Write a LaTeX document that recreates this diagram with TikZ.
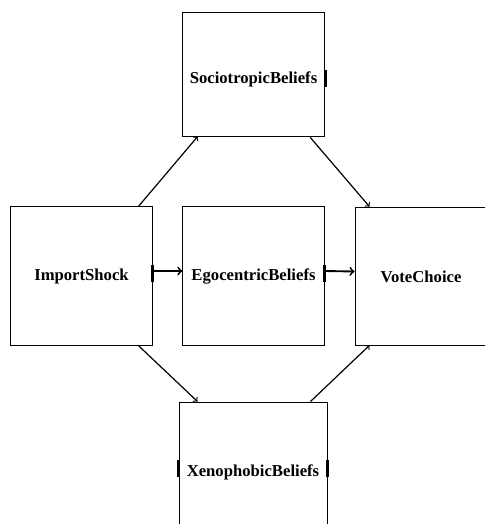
\documentclass[tikz,border=0pt]{standalone}
\usepackage{fontspec}
\setmainfont{Liberation Serif}
\usetikzlibrary{calc}
\begin{document}
\begin{tikzpicture}[x=0.75pt, y=-0.75pt,
    every node/.style={font=\bfseries\fontsize{12.5}{14}\selectfont},
    varbox/.style={draw, line width=0.75pt, inner sep=0pt},
    edgemark/.style={line width=2.2pt},
    link/.style={->, line width=0.9pt}]
  \useasboundingbox (0,0) rectangle (485,524);
  \clip (0,0) rectangle (485,524);

  \node[varbox, minimum width=107pt, minimum height=93pt, text height=16pt, text depth=3pt] (socio) at (253.5,75) {SociotropicBeliefs};
  \node[varbox, minimum width=106pt, minimum height=104pt] (import) at (81.5,276) {ImportShock};
  \node[varbox, minimum width=106pt, minimum height=104pt] (ego) at (253.5,276) {EgocentricBeliefs};
  \node[varbox, minimum width=99pt, minimum height=104pt] (vote) at (421,276.5) {VoteChoice};
  \node[varbox, minimum width=111pt, minimum height=105pt] (xeno) at (253,472) {XenophobicBeliefs};

  % marks on the box edges
  \draw[edgemark] ($(socio.east)+(0,-5)$) -- ($(socio.east)+(0,12)$);
  \draw[edgemark] ($(import.east)+(0,-11)$) -- ($(import.east)+(0,6)$);
  \draw[edgemark] ($(ego.east)+(0,-11)$) -- ($(ego.east)+(0,6)$);
  \draw[edgemark] ($(xeno.west)+(0,-12)$) -- ($(xeno.west)+(0,5)$);
  \draw[edgemark] ($(xeno.east)+(0,-12)$) -- ($(xeno.east)+(0,5)$);

  \draw[link, line width=1.4pt] ($(import.east)+(0,-5)$) -- ($(ego.west)+(0,-5)$);
  \draw[link, line width=1.4pt] ($(ego.east)+(0,-5)$) -- ($(vote.west)+(0,-5)$);

  \draw[link] ($(import.north east)+(-14,0)$) -- ($(socio.south west)+(16,-1)$);
  \draw[link] ($(socio.south east)+(-15,0)$) -- ($(vote.north west)+(15,0)$);
  \draw[link] ($(import.south east)+(-14,0)$) -- ($(xeno.north west)+(19,0)$);
  \draw[link] ($(xeno.north east)+(-17,0)$) -- ($(vote.south west)+(15,-1)$);
\end{tikzpicture}
\end{document}
